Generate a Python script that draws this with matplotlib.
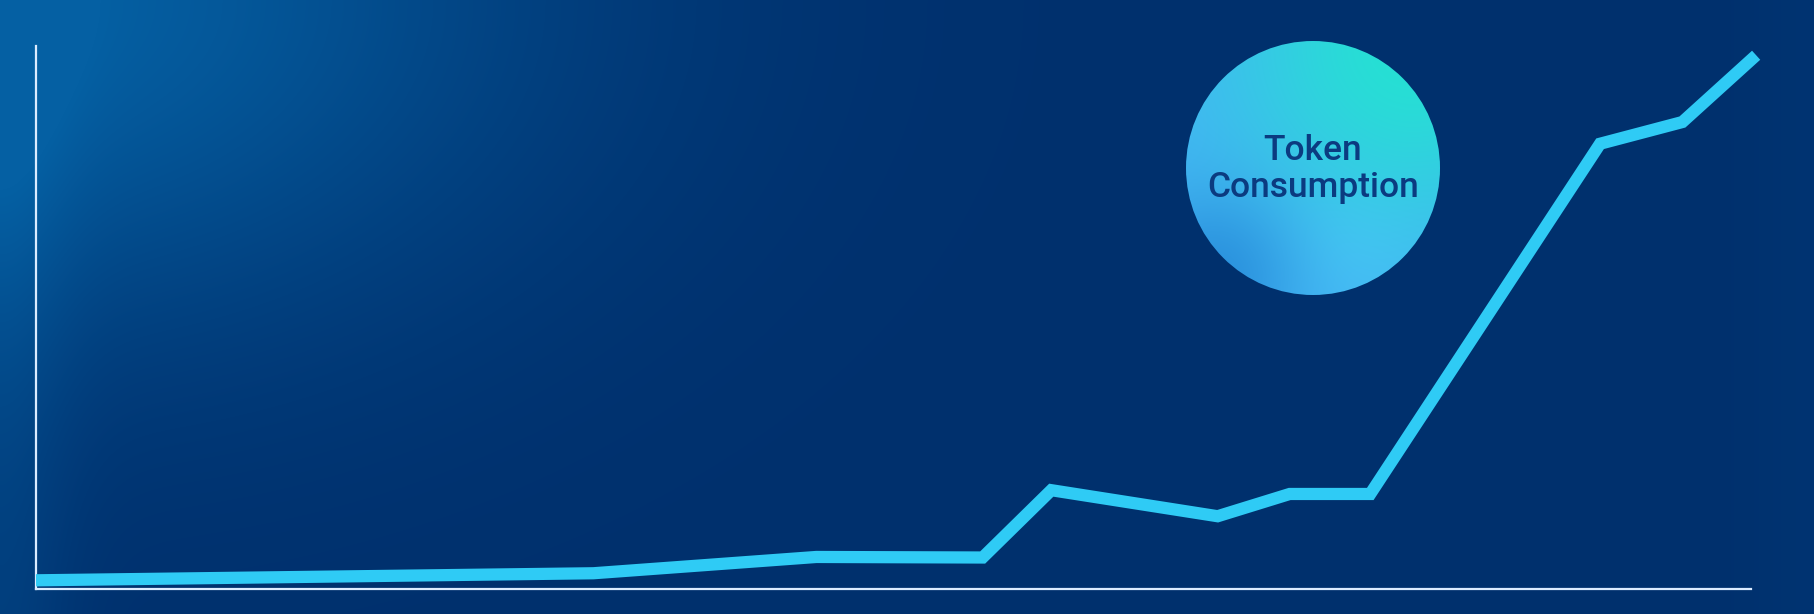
import numpy as np
import matplotlib.pyplot as plt
from matplotlib.patches import Circle
from matplotlib.colors import to_rgb

# -----------------------------------------
# data (x and y on a 0-100 scale)
# -----------------------------------------
usage_x = [0, 32.5, 45.5, 55.2, 59.2, 68.9, 73.1, 77.8, 91.2, 96.0, 100.3]
usage_y = [1.6, 2.9, 5.9, 5.8, 18.2, 13.4, 17.5, 17.5, 82.0, 86.0, 98.3]
label_text = "Token\nConsumption"

W, H = 1815, 614
fig = plt.figure(figsize=(W / 100, H / 100), dpi=100)

# -----------------------------------------
# background gradient
# -----------------------------------------
bg = fig.add_axes([0, 0, 1, 1])
bg.set_xlim(0, W)
bg.set_ylim(H, 0)
bg.axis("off")

yy, xx = np.mgrid[0:H, 0:W]
base = np.array(to_rgb("#00306d"))
glow = np.array(to_rgb("#0560a3"))
w = np.exp(-((xx / 520.0) ** 2 + (yy / 330.0) ** 2))
w = np.clip(w + 0.28 * np.exp(-(xx / 70.0) ** 2), 0, 1)
w = w + 0.08 * np.exp(-((W - xx) / 70.0) ** 2)
img = base[None, None, :] * (1 - w[..., None]) + glow[None, None, :] * w[..., None]
bg.imshow(np.clip(img, 0, 1), extent=(0, W, H, 0), aspect="auto", zorder=0)

# -----------------------------------------
# gradient circle with label
# -----------------------------------------
cx, cy, r = 1313, 168, 127
cy_, cx_ = np.mgrid[cy - r:cy + r, cx - r:cx + r]
c_base = np.array(to_rgb("#46b2f6"))
c_teal = np.array(to_rgb("#25e1d3"))
c_dark = np.array(to_rgb("#2286d6"))
c_lite = np.array(to_rgb("#4dbbfc"))
wt = np.exp(-(((cx_ - (cx + 100)) ** 2 + (cy_ - (cy - 125)) ** 2) / (180.0 ** 2)))
wd = 0.75 * np.exp(-(((cx_ - (cx - 100)) ** 2 + (cy_ - (cy + 110)) ** 2) / (85.0 ** 2)))
wl = np.exp(-(((cx_ - (cx + 30)) ** 2 + (cy_ - (cy + 70)) ** 2) / (75.0 ** 2)))
cimg = c_base[None, None, :] * np.ones_like(wt)[..., None]
cimg = cimg * (1 - wl[..., None]) + c_lite * wl[..., None]
cimg = cimg * (1 - wt[..., None]) + c_teal * wt[..., None]
cimg = cimg * (1 - wd[..., None]) + c_dark * wd[..., None]
im = bg.imshow(np.clip(cimg, 0, 1), extent=(cx - r, cx + r, cy + r, cy - r),
               aspect="auto", zorder=1)
circ = Circle((cx, cy), r, transform=bg.transData, facecolor="none", edgecolor="none")
bg.add_patch(circ)
im.set_clip_path(circ)
bg.text(cx, cy + 1, label_text, ha="center", va="center", fontsize=25.5,
        family=["Roboto", "DejaVu Sans"], fontweight="medium", color="#0b3b80",
        linespacing=1.15, zorder=2)

# -----------------------------------------
# the line chart
# -----------------------------------------
ax = fig.add_axes([36 / W, (H - 589) / H, (1751 - 36) / W, (589 - 46) / H])
ax.patch.set_alpha(0)
ax.set_xlim(0, 100)
ax.set_ylim(0, 100)
for side in ["top", "right"]:
    ax.spines[side].set_visible(False)
for side in ["left", "bottom"]:
    ax.spines[side].set_color("#dcecff")
    ax.spines[side].set_linewidth(1.6)
ax.set_xticks([])
ax.set_yticks([])

ax.plot(usage_x, usage_y, color="#2fcbf5", lw=8.8, solid_capstyle="butt",
        solid_joinstyle="miter", clip_on=False, zorder=3)

fig.savefig("out.png", dpi=100)
